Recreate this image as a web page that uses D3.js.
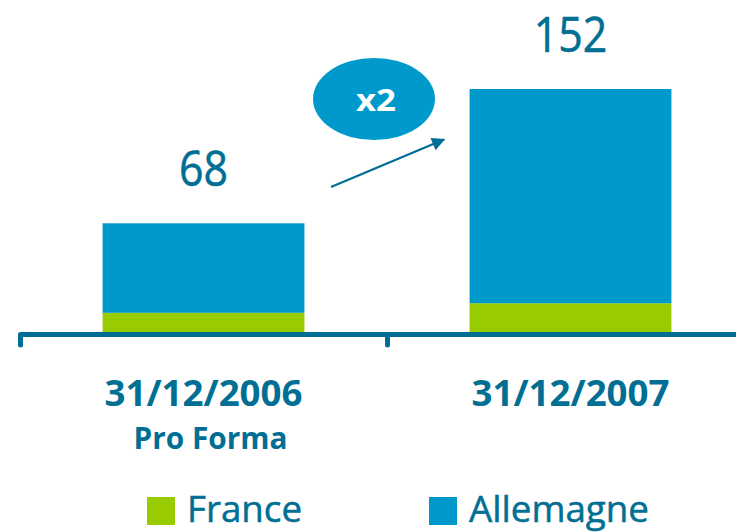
<!DOCTYPE html>
<html>
<head>
<meta charset="utf-8">
<script src="https://cdn.jsdelivr.net/npm/d3@7"></script>
<style>
  html, body { margin: 0; padding: 0; background: #ffffff; }
  svg { display: block; }
</style>
</head>
<body>
<div id="chart"></div>
<script>
// ---- data ----
const categories = ["31/12/2006", "31/12/2007"];
const subLabels = ["Pro Forma", ""];
const france = [12, 18];
const allemagne = [56, 134];
const totalLabels = ["68", "152"];
const seriesNames = ["France", "Allemagne"];
const growthLabel = "x2";

// ---- styles ----
const W = 736, H = 532;
const colFrance = "#99CC00";
const colAllemagne = "#0099CC";
const colText = "#006F93";
const colAxis = "#006E94";
const font = "'Open Sans', 'DejaVu Sans', sans-serif";

const svg = d3.select("#chart").append("svg")
  .attr("width", W).attr("height", H);

const x = d3.scaleBand().domain(categories).range([20, 754]).padding(0);
const y = d3.scaleLinear().domain([0, 152]).range([332, 89]);
const barW = x.bandwidth() * 0.55;

const stacked = d3.stack().keys([0, 1])(categories.map((c, i) => ({0: france[i], 1: allemagne[i], cat: c})));
const colors = [colFrance, colAllemagne];

stacked.forEach((layer, li) => {
  svg.append("g").selectAll("rect").data(layer).join("rect")
    .attr("x", d => x(d.data.cat) + (x.bandwidth() - barW) / 2)
    .attr("width", barW)
    .attr("y", d => y(d[1]))
    .attr("height", d => y(d[0]) - y(d[1]))
    .attr("fill", colors[li]);
});

// axis
const axisY = 334.5;
svg.append("line")
  .attr("x1", 20).attr("x2", W).attr("y1", axisY).attr("y2", axisY)
  .attr("stroke", colAxis).attr("stroke-width", 5);
const boundaries = [x.range()[0]].concat(categories.map(c => x(c) + x.bandwidth()));
svg.append("g").selectAll("line").data(boundaries.filter(b => b < W)).join("line")
  .attr("x1", d => d + 0.5).attr("x2", d => d + 0.5)
  .attr("y1", axisY).attr("y2", 345)
  .attr("stroke", colAxis).attr("stroke-width", 5).attr("stroke-linecap", "round");

// total labels
const totals = categories.map((c, i) => france[i] + allemagne[i]);
svg.append("g").selectAll("text").data(categories).join("text")
  .attr("x", c => x(c) + x.bandwidth() / 2)
  .attr("y", (c, i) => y(totals[i]) - 37)
  .attr("text-anchor", "middle")
  .attr("font-family", font).attr("font-size", 50)
  .attr("fill", colText)
  .attr("stroke", colText).attr("stroke-width", 0.6)
  .attr("textLength", (c, i) => totalLabels[i].length * 24.5)
  .attr("lengthAdjust", "spacingAndGlyphs")
  .text((c, i) => totalLabels[i]);

// category labels
svg.append("g").selectAll("text").data(categories).join("text")
  .attr("x", c => x(c) + x.bandwidth() / 2)
  .attr("y", 406)
  .attr("text-anchor", "middle")
  .attr("font-family", font).attr("font-size", 35).attr("font-weight", "bold")
  .attr("fill", colText)
  .attr("textLength", 198)
  .attr("lengthAdjust", "spacingAndGlyphs")
  .text(c => c);
svg.append("g").selectAll("text").data(categories.filter((c, i) => subLabels[i])).join("text")
  .attr("x", c => x(c) + x.bandwidth() / 2 + 7)
  .attr("y", 449)
  .attr("text-anchor", "middle")
  .attr("font-family", font).attr("font-size", 30).attr("font-weight", "bold")
  .attr("fill", colText)
  .attr("textLength", 154)
  .attr("lengthAdjust", "spacingAndGlyphs")
  .text(c => subLabels[categories.indexOf(c)]);

// growth ellipse + arrow
svg.append("ellipse")
  .attr("cx", 374).attr("cy", 99).attr("rx", 61).attr("ry", 41)
  .attr("fill", colAllemagne);
svg.append("text")
  .attr("x", 376).attr("y", 111)
  .attr("text-anchor", "middle")
  .attr("font-family", font).attr("font-size", 31).attr("font-weight", "bold")
  .attr("fill", "#ffffff")
  .attr("textLength", 40)
  .attr("lengthAdjust", "spacingAndGlyphs")
  .text(growthLabel);

const defs = svg.append("defs");
defs.append("marker")
  .attr("id", "arr").attr("viewBox", "0 0 10 10")
  .attr("refX", 9).attr("refY", 5)
  .attr("markerWidth", 7).attr("markerHeight", 6)
  .attr("markerUnits", "strokeWidth")
  .attr("orient", "auto")
  .append("path").attr("d", "M0,0 L10,5 L0,10 Z").attr("fill", colAxis);
svg.append("line")
  .attr("x1", 331).attr("y1", 187).attr("x2", 444).attr("y2", 139.5)
  .attr("stroke", colAxis).attr("stroke-width", 2.2)
  .attr("marker-end", "url(#arr)");

// legend
const legendX = [147, 429];
const legendW = [115, 180];
const lg = svg.append("g").selectAll("g").data(seriesNames).join("g");
lg.append("rect")
  .attr("x", (d, i) => legendX[i]).attr("y", 497)
  .attr("width", 28).attr("height", 28)
  .attr("fill", (d, i) => colors[i]);
lg.append("text")
  .attr("x", (d, i) => legendX[i] + 40)
  .attr("y", 522)
  .attr("font-family", font).attr("font-size", 36)
  .attr("fill", colText)
  .attr("stroke", colText).attr("stroke-width", 0.5)
  .attr("textLength", (d, i) => legendW[i])
  .attr("lengthAdjust", "spacingAndGlyphs")
  .text(d => d);
</script>
</body>
</html>
